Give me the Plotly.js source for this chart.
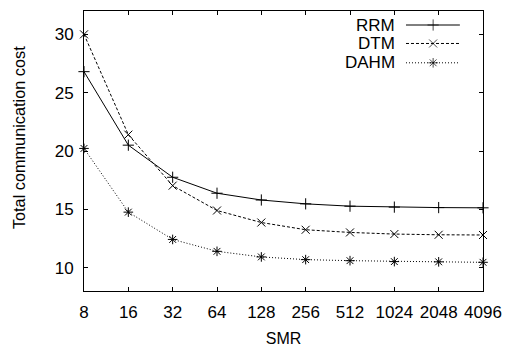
<!DOCTYPE html>
<html>
<head>
<meta charset="utf-8">
<script src="https://cdn.plot.ly/plotly-3.0.1.min.js"></script>
<style>
  html, body { margin: 0; padding: 0; background: #fff; }
  #chart { width: 510px; height: 347px; }
</style>
</head>
<body>
<div id="chart"></div>
<script>
// SMR values (log2-spaced categories)
const smr = ['8', '16', '32', '64', '128', '256', '512', '1024', '2048', '4096'];

// Total communication cost per scheme
const rrm  = [26.8, 20.5, 17.75, 16.38, 15.8, 15.47, 15.27, 15.19, 15.15, 15.13];
const dtm  = [30.0, 21.4, 17.03, 14.9, 13.87, 13.25, 13.02, 12.88, 12.82, 12.8];
const dahm = [20.22, 14.76, 12.42, 11.4, 10.92, 10.69, 10.6, 10.52, 10.5, 10.46];

const seriesNames = ['RRM', 'DTM', 'DAHM'];
const seriesData = [rrm, dtm, dahm];
const seriesDash = ['solid', '3px,2px', '1px,2px'];
const seriesSymbol = ['cross-thin-open', 'x-thin-open', 'asterisk-open'];

const idx = smr.map((_, i) => i);
const font = 'Liberation Sans, Arial, sans-serif';
const mSize = 8;

const traces = seriesData.map((vals, k) => ({
  x: idx,
  y: vals,
  type: 'scatter',
  mode: 'lines+markers',
  name: seriesNames[k],
  showlegend: false,
  cliponaxis: false,
  line: { color: '#000', width: 1, dash: seriesDash[k] },
  marker: { symbol: seriesSymbol[k], size: mSize, color: '#000', line: { color: '#000', width: 1 } }
}));

// Key samples drawn on an overlay axis spanning the plot area (0..1)
const keyY = [0.95, 0.884, 0.815];
seriesNames.forEach((name, k) => {
  traces.push({
    x: [0.807, 0.875, 0.942],
    y: [keyY[k], keyY[k], keyY[k]],
    xaxis: 'x2', yaxis: 'y2',
    type: 'scatter',
    mode: 'lines+markers',
    showlegend: false,
    hoverinfo: 'skip',
    cliponaxis: false,
    line: { color: '#000', width: 1, dash: seriesDash[k] },
    marker: { symbol: seriesSymbol[k], size: [0, mSize, 0], color: '#000', line: { color: '#000', width: 1 } }
  });
});

const annotations = seriesNames.map((name, k) => ({
  text: name,
  xref: 'paper', yref: 'paper',
  x: 0.784, y: keyY[k],
  xanchor: 'right', yanchor: 'middle',
  showarrow: false,
  font: { family: font, size: 17, color: '#000' }
}));

// Vertical axis label
annotations.push({
  text: 'Total communication cost',
  xref: 'paper', yref: 'paper',
  x: -0.164, y: 0.548,
  xanchor: 'center', yanchor: 'middle',
  textangle: -90,
  showarrow: false,
  font: { family: font, size: 16.3, color: '#000' }
});

const layout = {
  width: 510, height: 347,
  margin: { l: 84, r: 27, t: 11, b: 56 },
  paper_bgcolor: '#fff', plot_bgcolor: '#fff',
  showlegend: false,
  font: { family: font, size: 17, color: '#000' },
  xaxis: {
    range: [0, 9],
    tickmode: 'array', tickvals: idx, ticktext: smr,
    ticks: 'inside', ticklen: 4, tickcolor: '#000', tickwidth: 1,
    showline: true, linecolor: '#000', linewidth: 1, mirror: 'ticks',
    showgrid: false, zeroline: false,
    ticklabelstandoff: 6,
    tickfont: { family: font, size: 17 },
    title: { text: 'SMR', font: { family: font, size: 16 }, standoff: 11 }
  },
  yaxis: {
    range: [8, 32],
    tickvals: [10, 15, 20, 25, 30],
    ticks: 'inside', ticklen: 4, tickcolor: '#000', tickwidth: 1,
    showline: true, linecolor: '#000', linewidth: 1, mirror: 'ticks',
    showgrid: false, zeroline: false,
    ticklabelstandoff: 6,
    tickfont: { family: font, size: 17 }
  },
  xaxis2: { overlaying: 'x', range: [0, 1], visible: false, fixedrange: true },
  yaxis2: { overlaying: 'y', range: [0, 1], visible: false, fixedrange: true },
  annotations: annotations
};

Plotly.newPlot('chart', traces, layout, { displayModeBar: false, staticPlot: true });
</script>
</body>
</html>
